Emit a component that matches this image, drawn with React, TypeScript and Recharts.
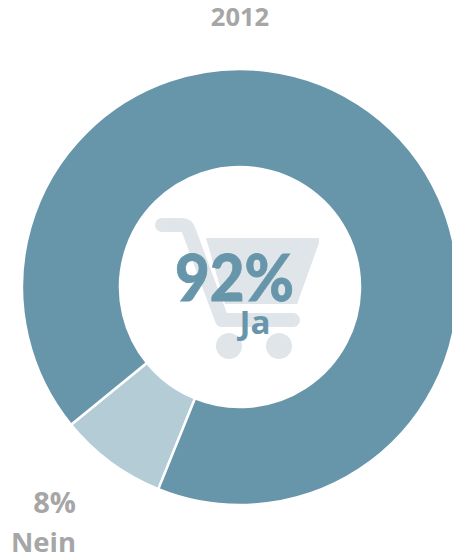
import React from "react";
import { PieChart, Pie, Cell } from "recharts";

const categories = ["Nein", "Ja"];
const values = [8, 92];
const colors = ["#B3CCD5", "#6796AB"];
const title = "2012";
const font = "'Open Sans', sans-serif";
const bigFont = "Lato, sans-serif";
const gray = "#A6A6A6";
const blue = "#6796AB";
const cart = "#DFE5E8";

const data = categories.map((name, i) => ({ name, value: values[i] }));

export default function App() {
  return (
    <div style={{ position: "absolute", left: 0, top: 0, width: 452, height: 556 }}>
      <PieChart width={452} height={556} margin={{ top: 0, right: 0, bottom: 0, left: 0 }}>
        <g>
          <path d="M162 225H182Q187 225 189 231L222 320H293" fill="none" stroke={cart} strokeWidth={14} strokeLinecap="round" strokeLinejoin="round" />
          <polygon points="206,238 319,238 319,243 297,304 225,304" fill={cart} />
          <circle cx={229} cy={346} r={13} fill={cart} />
          <circle cx={279} cy={346} r={13} fill={cart} />
        </g>
        <Pie
          data={data}
          dataKey="value"
          nameKey="name"
          cx={240}
          cy={287}
          innerRadius={120}
          outerRadius={218}
          startAngle={-112}
          endAngle={-472}
          stroke="#FFFFFF"
          strokeWidth={2.5}
          isAnimationActive={false}
          labelLine={false}
          label={false}
        >
          {data.map((d, i) => (
            <Cell key={d.name} fill={colors[i]} />
          ))}
        </Pie>
        <text x={234.5} y={301} textAnchor="middle" fontFamily={bigFont} fontWeight={900} fontSize={64} fill={blue} stroke={blue} strokeWidth={0.8} textLength={119} lengthAdjust="spacingAndGlyphs">{`${values[1]}%`}</text>
        <text x={255} y={334} textAnchor="middle" fontFamily={font} fontWeight={700} fontSize={32} fill={blue} textLength={31} lengthAdjust="spacingAndGlyphs">{categories[1]}</text>
        <text x={240} y={26} textAnchor="middle" fontFamily={font} fontWeight={700} fontSize={25.5} fill={gray}>{title}</text>
        <text x={76} y={513} textAnchor="end" fontFamily={font} fontWeight={700} fontSize={29} fill={gray}>{`${values[0]}%`}</text>
        <text x={76} y={552} textAnchor="end" fontFamily={font} fontWeight={700} fontSize={27.5} fill={gray}>{categories[0]}</text>
      </PieChart>
    </div>
  );
}
